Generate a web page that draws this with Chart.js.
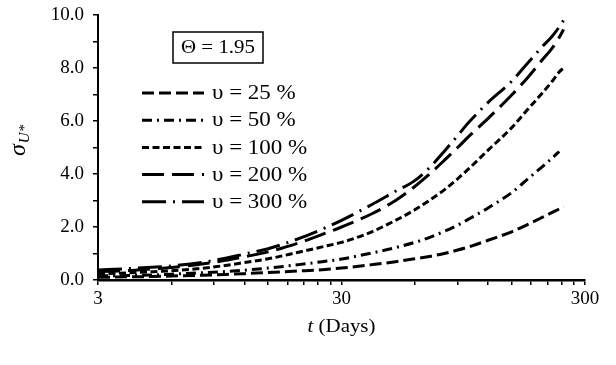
<!DOCTYPE html>
<html>
<head>
<meta charset="utf-8">
<script src="https://cdn.jsdelivr.net/npm/chart.js@4"></script>
<style>
  html, body { margin: 0; padding: 0; background: #fff; }
  #wrap { width: 616px; height: 365px; }
</style>
</head>
<body>
<div id="wrap"><canvas id="chart" width="616" height="365"></canvas></div>
<script>
// time axis (days) and the five curves
const days = [3, 4, 5, 6, 8, 10, 12, 15, 20, 25, 30, 40, 50, 60, 70, 80, 90, 100, 120, 150, 175, 200, 220, 235, 245];
const v25  = [0.10, 0.12, 0.13, 0.15, 0.18, 0.21, 0.24, 0.28, 0.34, 0.39, 0.45, 0.58, 0.69, 0.80, 0.90, 1.01, 1.13, 1.25, 1.50, 1.82, 2.10, 2.36, 2.55, 2.68, 2.77];
const v50  = [0.15, 0.17, 0.19, 0.22, 0.27, 0.32, 0.37, 0.45, 0.58, 0.69, 0.79, 1.02, 1.22, 1.42, 1.63, 1.85, 2.07, 2.30, 2.72, 3.30, 3.82, 4.27, 4.60, 4.85, null];
const v100 = [0.23, 0.27, 0.31, 0.35, 0.44, 0.55, 0.66, 0.80, 1.05, 1.25, 1.42, 1.82, 2.25, 2.65, 3.05, 3.43, 3.82, 4.20, 4.90, 5.75, 6.45, 7.05, 7.50, 7.85, 8.00];
const v200 = [0.31, 0.36, 0.42, 0.47, 0.60, 0.74, 0.88, 1.06, 1.40, 1.72, 2.00, 2.50, 3.00, 3.53, 4.05, 4.55, 5.00, 5.42, 6.10, 6.98, 7.65, 8.30, 8.75, 9.15, 9.45];
const v300 = [0.38, 0.43, 0.48, 0.53, 0.66, 0.82, 0.98, 1.18, 1.56, 1.92, 2.25, 2.85, 3.35, 3.75, 4.30, 4.90, 5.45, 5.95, 6.70, 7.50, 8.20, 8.80, 9.20, 9.55, 9.80];

const seriesNames = ['υ = 25 %', 'υ = 50 %', 'υ = 100 %', 'υ = 200 %', 'υ = 300 %'];
const seriesValues = [v25, v50, v100, v200, v300];
const dashes = [[12, 5], [10, 5, 2, 5], [7, 3.5], [22, 8], [24, 7, 2, 7]];

const xTicks = [3, 6, 9, 12, 15, 18, 21, 24, 27, 30, 60, 90, 120, 150, 180, 210, 240, 270, 300];
const xTickLabels = [3, 30, 300];
const yTickLabels = [0, 2, 4, 6, 8, 10];
const thetaText = 'Θ = 1.95';

const FONT = 'Liberation Serif';

function toPoints(vals) {
  return days.map((d, i) => ({ x: d, y: vals[i] }));
}

const datasets = seriesValues.map((vals, i) => ({
  label: seriesNames[i],
  data: toPoints(vals),
  borderColor: '#000',
  borderWidth: 3,
  borderDash: dashes[i],
  borderCapStyle: 'butt',
  pointRadius: 0,
  cubicInterpolationMode: 'monotone',
  fill: false
}));

// text stretched a little sideways, like the source figure
function wideText(ctx, str, x, y, sx) {
  ctx.save();
  ctx.translate(x, y);
  ctx.scale(sx, 1);
  ctx.fillText(str, 0, 0);
  ctx.restore();
  return ctx.measureText(str).width * sx;
}

// legend, theta box and the two axis titles
const extras = {
  id: 'extras',
  afterDraw(chart) {
    const ctx = chart.ctx;
    ctx.save();
    ctx.fillStyle = '#000';
    ctx.strokeStyle = '#000';

    // theta box
    ctx.lineWidth = 1.5;
    ctx.strokeRect(173, 32, 90, 31);
    ctx.font = '19px "' + FONT + '"';
    ctx.textAlign = 'left';
    ctx.textBaseline = 'middle';
    const tw = ctx.measureText(thetaText).width * 1.1;
    wideText(ctx, thetaText, 218 - tw / 2, 48, 1.1);

    // legend
    ctx.font = '20px "' + FONT + '"';
    seriesNames.forEach((name, i) => {
      const y = 93 + i * 27.2;
      ctx.lineWidth = 3;
      ctx.lineCap = 'butt';
      ctx.setLineDash(dashes[i]);
      ctx.beginPath();
      ctx.moveTo(142, y);
      ctx.lineTo(204, y);
      ctx.stroke();
      ctx.setLineDash([]);
      wideText(ctx, name, 212, y + 1, 1.15);
    });

    // x title
    const area = chart.chartArea;
    const cx = (area.left + area.right) / 2;
    ctx.textBaseline = 'alphabetic';
    ctx.font = 'italic 19px "' + FONT + '"';
    const wt = ctx.measureText('t').width * 1.1;
    ctx.font = '19px "' + FONT + '"';
    const wr = ctx.measureText(' (Days)').width * 1.1;
    const x0 = cx - (wt + wr) / 2;
    ctx.font = 'italic 19px "' + FONT + '"';
    wideText(ctx, 't', x0, 332, 1.1);
    ctx.font = '19px "' + FONT + '"';
    wideText(ctx, ' (Days)', x0 + wt, 332, 1.1);

    // y title, sigma with subscript
    ctx.translate(25, 156);
    ctx.rotate(-Math.PI / 2);
    ctx.font = 'italic 24px "' + FONT + '"';
    ctx.fillText('σ', 0, 0);
    const ws = ctx.measureText('σ').width;
    ctx.font = 'italic 15px "' + FONT + '"';
    ctx.fillText('U*', ws + 1, 4);
    ctx.restore();
  }
};

new Chart(document.getElementById('chart'), {
  type: 'line',
  data: { datasets: datasets },
  options: {
    responsive: false,
    animation: false,
    layout: { padding: { top: 15, right: 31, left: 0, bottom: 0 } },
    plugins: { legend: { display: false }, tooltip: { enabled: false } },
    scales: {
      x: {
        type: 'logarithmic',
        min: 3,
        max: 300,
        afterBuildTicks: (scale) => { scale.ticks = xTicks.map(v => ({ value: v })); },
        afterFit: (scale) => { scale.height = 85; scale.paddingLeft = 0; scale.paddingRight = 0; },
        ticks: {
          autoSkip: false,
          maxRotation: 0,
          padding: 3,
          color: '#000',
          font: { family: FONT, size: 19 },
          callback: (v) => xTickLabels.includes(v) ? String(v) : ''
        },
        grid: { display: true, drawOnChartArea: false, drawTicks: true, tickLength: 5, color: '#000', lineWidth: 1.5 },
        border: { display: true, color: '#000', width: 2.5 }
      },
      y: {
        min: 0,
        max: 10,
        afterFit: (scale) => { scale.width = 98; scale.paddingTop = 0; scale.paddingBottom = 0; },
        ticks: {
          stepSize: 1,
          padding: 9,
          color: '#000',
          font: { family: FONT, size: 19 },
          callback: (v) => yTickLabels.includes(v) ? v.toFixed(1) : ''
        },
        grid: { display: true, drawOnChartArea: false, drawTicks: true, tickLength: 5, color: '#000', lineWidth: 1.5 },
        border: { display: true, color: '#000', width: 2 }
      }
    }
  },
  plugins: [extras]
});
</script>
</body>
</html>
